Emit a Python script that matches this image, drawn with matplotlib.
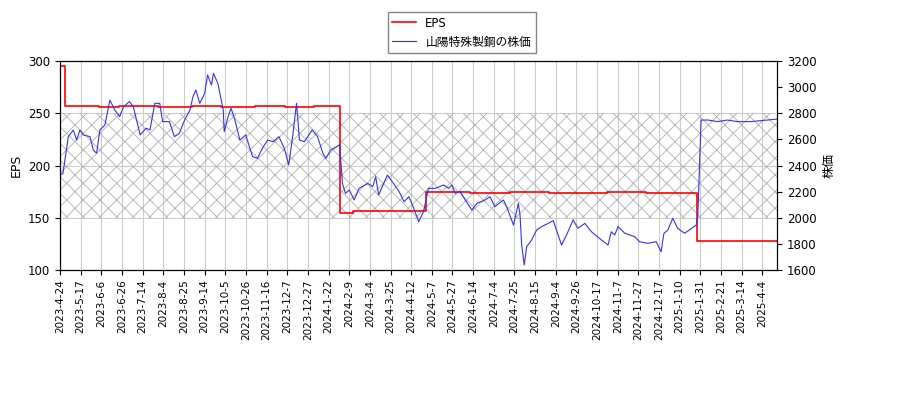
import numpy as np
import matplotlib
matplotlib.use("Agg")
import matplotlib.pyplot as plt

plt.rcParams['font.family'] = ['DejaVu Sans', 'Noto Sans CJK JP']
plt.rcParams['hatch.color'] = '#b0b0b0'
plt.rcParams['hatch.linewidth'] = 0.6

# x values: trading-position scale (0 = 2023-4-24 ... 734 = end of data)
price_days = [0,3,8.5,13.6,17,20.4,23.8,30.6,34,37.4,40.8,45.9,51,56,61,65,71,75,82,88,92,97,102,105,112,117,122,127.5,133,136,139,143,148,151,155,157,161.5,167,168,172,175,178.5,184,190,197,202,207,212.5,218,224,229.5,234,238,242,245,250,258,263.5,269,272,277,286,287,289,292,296,301,306,315,320,323,326,335,340,347,352,357,362,367,
              372,377,384,392.5,397.6,401,404.4,409.5,414.6,421.4,426.5,435,440,445,453.7,457,464,469,470.7,472.4,475,477.5,482.6,487.7,492.8,499.6,504.7,513.2,518.3,525,530,537,543.8,554,560.8,564,567.6,571,578,588,593,601.6,610,615,618,622,627,632,639,644,651,652.6,656,663,673,683,693,707,724,734]
price_vals = [2327,2340,2621,2672,2595,2672,2634,2621,2519,2493,2672,2710,2901,2825,2774,2850,2889,2850,2634,2685,2672,2876,2876,2736,2736,2621,2646,2748,2825,2927,2978,2876,2952,3093,3016,3106,3029,2825,2659,2774,2838,2761,2595,2634,2468,2455,2531,2595,2582,2621,2531,2404,2621,2876,2595,2582,2672,2621,2493,2455,2519,2557,2468,2263,2187,2212,2136,2225,2263,2238,2314,2174,2327,2276,2200,2123,2161,2072,1970,
              2047,2225,2225,2251,2225,2251,2187,2200,2136,2059,2110,2136,2161,2085,2136,2085,1944,2110,2021,1791,1638,1779,1830,1906,1932,1957,1978,1791,1868,1983,1919,1957,1893,1830,1791,1893,1868,1932,1881,1855,1817,1804,1817,1740,1881,1906,1996,1919,1881,1906,1944,2008,2748,2748,2736,2748,2736,2736,2748,2756]

eps_days = [0, 5, 40, 60, 100, 135, 165, 200, 230, 260, 286, 300, 374, 420, 460, 500, 560, 600, 652, 734]
eps_vals = [295, 257, 256, 257, 256, 257, 256, 257, 256, 257, 155, 156, 175, 174, 175, 174, 175, 174, 128, 128]

tick_labels = ["2023-4-24","2023-5-17","2023-6-6","2023-6-26","2023-7-14","2023-8-4","2023-8-25","2023-9-14",
               "2023-10-5","2023-10-26","2023-11-16","2023-12-7","2023-12-27","2024-1-22","2024-2-9","2024-3-4",
               "2024-3-25","2024-4-12","2024-5-7","2024-5-27","2024-6-14","2024-7-4","2024-7-25","2024-8-15",
               "2024-9-4","2024-9-26","2024-10-17","2024-11-7","2024-11-27","2024-12-17","2025-1-10","2025-1-31",
               "2025-2-21","2025-3-14","2025-4-4"]
tick_step = 703 / 718 * 734 / 34

fig = plt.figure(figsize=(9, 4), dpi=100)
ax = fig.add_axes([0.0667, 0.325, 0.797, 0.5225])
ax2 = ax.twinx()

ax.fill_between([0, 734], 150, 250, facecolor='none', edgecolor='#b0b0b0', hatch='xx', linewidth=0)
l1, = ax.plot(eps_days, eps_vals, color='red', drawstyle='steps-post', linewidth=1.2, label='EPS')
l2, = ax2.plot(price_days, price_vals, color='#3333ee', linewidth=0.8, label='山陽特殊製鋼の株価')

ax.set_ylim(100, 300)
ax.set_yticks(np.arange(100, 301, 50))
ax2.set_ylim(1600, 3200)
ax2.set_yticks(np.arange(1600, 3201, 200))
ax.set_xlim(0, 734)
ax.set_xticks(np.arange(len(tick_labels)) * tick_step)
ax.set_xticklabels(tick_labels, rotation=90, fontsize=7.5)
ax.tick_params(axis='y', labelsize=8.5)
ax2.tick_params(axis='y', labelsize=8.5)
ax.grid(True, color='#cccccc', linewidth=0.8)
ax.set_axisbelow(True)
ax.set_ylabel('EPS', fontsize=9)
ax2.set_ylabel('株価', fontsize=9)

fig.legend([l1, l2], ['EPS', '山陽特殊製鋼の株価'], loc='upper center', bbox_to_anchor=(0.513, 0.985),
           fontsize=8.5, fancybox=False, edgecolor='#666666')
fig.savefig('out.png')
